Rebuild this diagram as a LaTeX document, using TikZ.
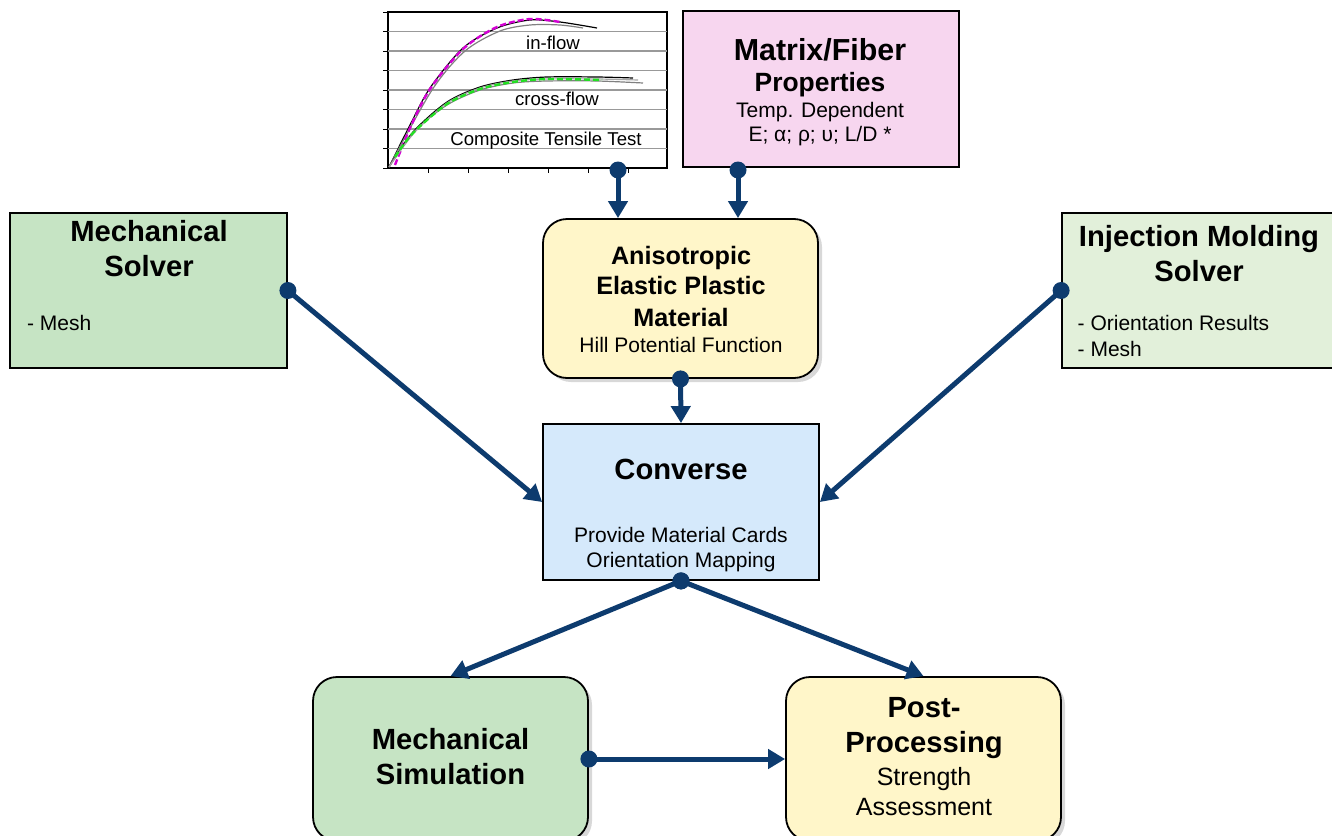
\documentclass[tikz,border=0pt]{standalone}
\usepackage{fontspec}
\setmainfont{Liberation Sans}
\usetikzlibrary{arrows.meta,shadows}

\definecolor{navy}{HTML}{0D3B6E}
\definecolor{solvgreen}{HTML}{C6E4C4}
\definecolor{imgreen}{HTML}{E2F0DA}
\definecolor{fibpink}{HTML}{F7D6EF}
\definecolor{matyellow}{HTML}{FFF6C9}
\definecolor{convblue}{HTML}{D5E9FB}
\definecolor{fitmag}{HTML}{D400D4}
\definecolor{fitgreen}{HTML}{22E022}

\tikzset{
  box/.style={draw=black, line width=0.9pt, inner sep=0pt,
    minimum width=138pt, minimum height=78pt},
  rbox/.style={box, rounded corners=12pt,
    drop shadow={opacity=0.3, shadow xshift=2pt, shadow yshift=-2pt}},
  flow/.style={navy, line width=2.5pt, -{Triangle[width=9.5pt,length=8.5pt]}},
  ttl/.style={anchor=base, inner sep=0pt, font=\fontsize{14.6}{17}\selectfont\bfseries},
  txt/.style={anchor=base, inner sep=0pt, font=\fontsize{10.5}{12.5}\selectfont},
  chtxt/.style={anchor=base, inner sep=0pt, font=\fontsize{9.3}{11}\selectfont},
}

\begin{document}
\begin{tikzpicture}[x=0.5pt,y=-0.5pt]
  \useasboundingbox (0,0) rectangle (1332,835);
  \fill[white] (0,0) rectangle (1332,835);

  % tensile test chart
  \node[draw, fill=white, line width=1pt, inner sep=0pt,
    minimum width=139.5pt, minimum height=78pt] (chart) at (527.5,90) {};
  \foreach \y in {31.5,51,70.5,90,109.5,129,148.5}
    \draw[gray!80, line width=0.6pt] (388,\y) -- (667,\y);
  \foreach \y in {12,31.5,51,70.5,90,109.5,129,148.5,168}
    \draw[line width=0.5pt] (383,\y) -- (388,\y);
  \foreach \x in {428,468,...,628}
    \draw[line width=0.5pt] (\x,168) -- (\x,173);
  \draw[line width=0.6pt] plot[smooth] coordinates {(389,167) (410,125) (430,88) (463,48) (497,28) (530,20) (560,22) (597,28)};
  \draw[gray, line width=0.6pt] plot[smooth] coordinates {(389,167) (432,90) (465,51) (500,31) (530,25) (560,25) (583,28)};
  \draw[fitmag, dashed, dash pattern=on 3pt off 1.5pt, line width=1.2pt] plot[smooth] coordinates {(395,165) (410,128) (430,89) (463,49) (497,27) (530,19) (560,22)};
  \draw[line width=0.6pt] plot[smooth] coordinates {(389,167) (413,132) (447,102) (480,87) (513,80) (547,77) (597,77) (633,78)};
  \draw[gray, line width=0.6pt] plot[smooth] coordinates {(389,167) (415,131) (447,105) (480,90) (513,83) (547,81) (597,81) (643,83)};
  \draw[gray!70, line width=0.6pt] plot[smooth] coordinates {(389,167) (414,133) (447,103) (480,88) (513,81) (547,79) (597,79) (638,80)};
  \draw[fitgreen, dashed, dash pattern=on 3pt off 1.5pt, line width=1.2pt] plot[smooth] coordinates {(395,157) (413,133) (447,104) (480,89) (513,82) (547,79) (602,80)};
  \node[chtxt] (inflow) at (553,49) {in-flow};
  \node[chtxt] (crossflow) at (557,105.7) {cross-flow};
  \node[chtxt] (tensile) at (546,145.7) {Composite Tensile Test};

  % boxes
  \node[box, fill=fibpink] (matfib) at (821,89) {};
  \node[box, fill=solvgreen, minimum width=138.5pt, minimum height=77.5pt] (msolver) at (148.5,290.5) {};
  \node[box, fill=imgreen, minimum width=139pt, minimum height=77.5pt] (imsolver) at (1201,290.5) {};
  \node[rbox, fill=matyellow, minimum width=137.5pt, minimum height=79.5pt] (aniso) at (680.5,298.5) {};
  \node[box, fill=convblue] (conv) at (681,502) {};
  \node[rbox, fill=solvgreen, minimum width=137.5pt, minimum height=82pt] (msim) at (450.5,759) {};
  \node[rbox, fill=matyellow, minimum width=137.5pt, minimum height=82pt] (post) at (923.5,759) {};

  % texts
  \node[ttl, font=\fontsize{15.2}{17}\selectfont\bfseries] (mf1) at (820,60) {Matrix/Fiber};
  \node[ttl, font=\fontsize{13.2}{15}\selectfont\bfseries] (mf2) at (820,91) {Properties};
  \node[txt] (mf3) at (820,117.7) {Temp. Dependent};
  \node[txt] (mf4) at (820,141.7) {E; α; ρ; υ; L/D *};

  \node[ttl] (ms1) at (149,241.7) {Mechanical};
  \node[ttl] (ms2) at (149,276) {Solver};
  \node[txt, anchor=base west] (ms3) at (26.7,330) {- Mesh};

  \node[ttl] (im1) at (1199,246.7) {Injection Molding};
  \node[ttl] (im2) at (1199,281.7) {Solver};
  \node[txt, anchor=base west] (im3) at (1077.3,330) {- Orientation Results};
  \node[txt, anchor=base west] (im4) at (1077.3,356) {- Mesh};

  \node[ttl, font=\fontsize{12.6}{15}\selectfont\bfseries] (an1) at (681,264) {Anisotropic};
  \node[ttl, font=\fontsize{12.6}{15}\selectfont\bfseries] (an2) at (681,294) {Elastic Plastic};
  \node[ttl, font=\fontsize{12.6}{15}\selectfont\bfseries] (an3) at (681,326) {Material};
  \node[txt] (an4) at (681,352.3) {Hill Potential Function};

  \node[ttl] (cv1) at (681,479.3) {Converse};
  \node[txt] (cv2) at (681,542.7) {Provide Material Cards};
  \node[txt] (cv3) at (681,567.7) {Orientation Mapping};

  \node[ttl] (sm1) at (450.5,749.3) {Mechanical};
  \node[ttl] (sm2) at (450.5,784) {Simulation};

  \node[ttl] (pp1) at (924,717.3) {Post-};
  \node[ttl] (pp2) at (924,752.7) {Processing};
  \node[txt, font=\fontsize{12.5}{15}\selectfont] (pp3) at (924,785) {Strength};
  \node[txt, font=\fontsize{12.5}{15}\selectfont] (pp4) at (924,815) {Assessment};

  % connectors
  \coordinate (d1) at (618,170);
  \coordinate (d2) at (738,170);
  \draw[flow] (d1) -- (d1 |- aniso.north);
  \draw[flow] (d2) -- (d2 |- aniso.north);
  \fill[navy] (d1) circle (4.25pt) (d2) circle (4.25pt);
  \foreach \a/\b in {msolver.east/conv.west, imsolver.west/conv.east,
      aniso.south/conv.north, conv.south/msim.north,
      conv.south/post.north, msim.east/post.west} {
    \draw[flow] (\a) -- (\b);
    \fill[navy] (\a) circle (4.25pt);
  }
\end{tikzpicture}
\end{document}
